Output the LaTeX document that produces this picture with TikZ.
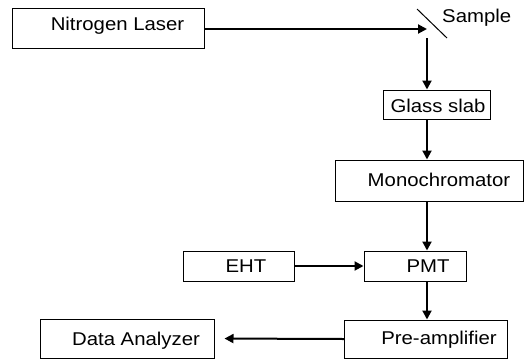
\documentclass[tikz,border=0pt]{standalone}
\usepackage{fontspec}
\setmainfont{Liberation Sans}[FakeStretch=1.1]
\usetikzlibrary{arrows.meta}
\begin{document}
\begin{tikzpicture}[x=1pt,y=-1pt,
  box/.style={draw,line width=1pt,inner sep=0pt,rectangle},
  lbl/.style={inner sep=0pt,anchor=base,font=\fontsize{18.5}{20}\selectfont},
  conn/.style={line width=2pt,-{Triangle[length=9pt,width=9pt]}}]
\useasboundingbox (0,0) rectangle (525,360);
% boxes
\node[box,minimum width=192pt,minimum height=40pt] (laser) at (108,28) {};
\node[box,minimum width=107pt,minimum height=29pt] (glass) at (436.5,104.5) {};
\node[box,minimum width=188pt,minimum height=41pt] (mono) at (429,180.5) {};
\node[box,minimum width=111pt,minimum height=30pt] (eht) at (238.5,266) {};
\node[box,minimum width=102pt,minimum height=30pt] (pmt) at (415,266) {};
\node[box,minimum width=163pt,minimum height=38pt] (pre) at (426,339) {};
\node[box,minimum width=174pt,minimum height=39pt] (data) at (127,338.5) {};
% texts
\node[lbl] (tlaser) at (117.5,30) {Nitrogen Laser};
\node[lbl,anchor=base west] (tsample) at (442,22) {Sample};
\node[lbl] (tglass) at (438,112) {Glass slab};
\node[lbl] (tmono) at (439,186) {Monochromator};
\node[lbl] (teht) at (246,272) {EHT};
\node[lbl] (tpmt) at (428,272) {PMT};
\node[lbl] (tpre) at (439,344) {Pre-amplifier};
\node[lbl] (tdata) at (136,345) {Data Analyzer};
% sample mirror
\coordinate (m1) at (417,9);
\coordinate (m2) at (447,38);
\draw[line width=1pt] (m1) -- (m2);
\coordinate (hit) at (427,29);
\coordinate (out) at (427,38);
% connectors
\draw[conn] (laser.east |- hit) -- (hit);
\draw[conn] (out) -- (out |- glass.north);
\draw[conn] (glass.south -| out) -- (mono.north -| out);
\draw[conn] (mono.south -| out) -- (pmt.north -| out);
\draw[conn] (eht.east) -- (pmt.west);
\draw[conn] (pmt.south -| out) -- (pre.north -| out);
\draw[conn,shorten >=10pt] (pre.west) -- (data.east);
\end{tikzpicture}
\end{document}
